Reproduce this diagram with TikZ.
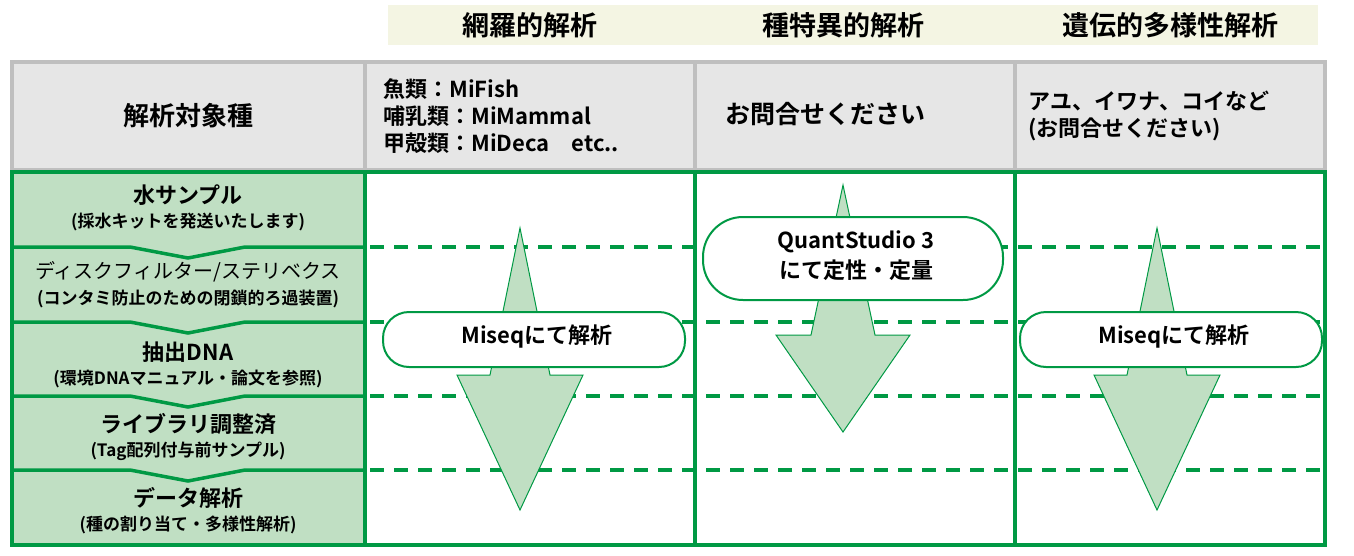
\documentclass[tikz,border=0pt]{standalone}
\usepackage{fontspec}
\setmainfont{Noto Sans CJK JP Bold}
\newfontfamily\regf{Noto Sans CJK JP}
\begin{document}
\begin{tikzpicture}[x=1pt,y=-1pt,
  gr/.style={draw=dgreen,line width=3.5pt},
  dsh/.style={draw=dgreen,line width=3.5pt,dash pattern=on 14pt off 10pt},
  arr/.style={draw=dgreen,fill=lgreen,line width=1pt},
  rbox/.style={draw=dgreen,fill=white,line width=2pt,rounded corners=26pt},
  hd/.style={font=\fontsize{27}{31}\selectfont},
  tl/.style={font=\fontsize{22}{26}\selectfont},
  st/.style={font=\fontsize{17}{20}\selectfont},
  tx/.style={font=\fontsize{22}{27}\selectfont,align=left,anchor=west}]
\definecolor{dgreen}{HTML}{009944}
\definecolor{lgreen}{HTML}{C0DFC3}
\definecolor{cream}{HTML}{F4F5E3}
\definecolor{lgray}{HTML}{E6E6E6}
\definecolor{mgray}{HTML}{BFBFBF}
\useasboundingbox (0,0) rectangle (1354,555);
\fill[cream] (388,5) rectangle (1318,45);
\node[hd] (h1) at (530,25) {網羅的解析};
\node[hd] (h2) at (843,25) {種特異的解析};
\node[hd] (h3) at (1170,25) {遺伝的多様性解析};
% header row
\draw[mgray,fill=lgray,line width=3.5pt] (12,62) rectangle (1325,170);
\foreach \x in {365,695,1015} \draw[mgray,line width=3.5pt] (\x,62) -- (\x,170);
\node[font=\fontsize{26}{30}\selectfont] (t0) at (188,116) {解析対象種};
\node[tx] (t1) at (380,116) {魚類：MiFish\\哺乳類：MiMammal\\甲殻類：MiDeca\quad etc..};
\node[tx,font=\fontsize{25}{29}\selectfont] (t2) at (722,114) {お問合せください};
\node[tx] (t3) at (1025,116) {アユ、イワナ、コイなど\\(お問合せください)};
% left column
\fill[lgreen] (12,172) rectangle (365,545);
\foreach \y in {247,322,396,470}{
  \draw[gr] (12,\y) -- (130,\y) -- (188,\y+11) -- (245,\y) -- (365,\y);
  \draw[dsh] (370,\y) -- (1325,\y);}
\draw[gr] (12,172) rectangle (1325,545);
\foreach \x in {365,695,1015} \draw[gr] (\x,172) -- (\x,545);
\node[tl] (l1) at (188,195) {水サンプル};
\node[st] (s1) at (188,222) {(採水キットを発送いたします)};
\node[tl,font=\regf\fontsize{20}{24}\selectfont] (l2) at (188,272) {ディスクフィルター/ステリベクス};
\node[st] (s2) at (188,299) {(コンタミ防止のための閉鎖的ろ過装置)};
\node[tl] (l3) at (188,352) {抽出DNA};
\node[st] (s3) at (188,379) {(環境DNAマニュアル・論文を参照)};
\node[tl] (l4) at (188,424) {ライブラリ調整済};
\node[st] (s4) at (188,451) {(Tag配列付与前サンプル)};
\node[tl] (l5) at (188,498) {データ解析};
\node[st] (s5) at (188,525) {(種の割り当て・多様性解析)};
% arrows
\draw[arr] (520,228) -- (550,375) -- (583,375) -- (520,510) -- (457,375) -- (490,375) -- cycle;
\draw[arr] (843,185) -- (875,335) -- (910,335) -- (843,432) -- (776,335) -- (811,335) -- cycle;
\draw[arr] (1157,228) -- (1187,375) -- (1220,375) -- (1157,510) -- (1094,375) -- (1127,375) -- cycle;
\draw[rbox] (383,312) rectangle (685,367);
\node[tl] (b1) at (537,337) {Miseqにて解析};
\draw[rbox,rounded corners=40pt] (703,217) rectangle (1003,300);
\node[tl,align=center,font=\fontsize{22}{30}\selectfont] (b2) at (856,256) {QuantStudio 3\\にて定性・定量};
\draw[rbox] (1020,312) rectangle (1322,367);
\node[tl] (b3) at (1174,337) {Miseqにて解析};
\end{tikzpicture}
\end{document}
